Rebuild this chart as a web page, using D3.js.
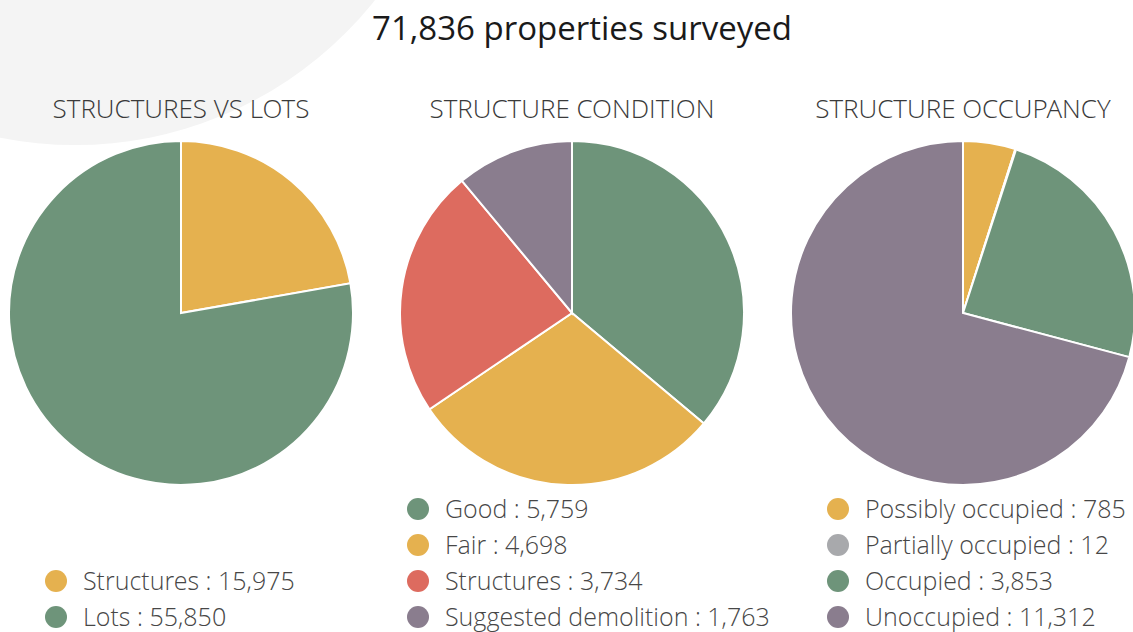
<!DOCTYPE html>
<html lang="en">
<head>
<meta charset="UTF-8">
<title>71,836 properties surveyed</title>
<style>
    body { margin: 0; background: #fff; }
    text { font-family: "Open Sans Light", "Open Sans", sans-serif; }
    .title { font-family: "Open Sans", sans-serif; font-size: 33px; fill: #1a1a1a; }
    .subtitle { font-size: 26px; font-weight: 300; fill: #3a3a3a; }
    .legend text { font-size: 25px; font-weight: 300; fill: #474747; }
    .slice { stroke: #fff; stroke-width: 2px; }
</style>
</head>
<body>
<script src="https://d3js.org/d3.v7.min.js"></script>
<script>
    const totalSurveyed = 71836;

    const lotsLabels = ["Structures", "Lots"];
    const lotsValues = [15975, 55850];
    const lotsColors = ["#e5b14f", "#6e947a"];

    const conditionLabels = ["Good", "Fair", "Structures", "Suggested demolition"];
    const conditionValues = [5759, 4698, 3734, 1763];
    const conditionColors = ["#6e947a", "#e5b14f", "#dd6b5f", "#8a7d8e"];

    const occupancyLabels = ["Possibly occupied", "Partially occupied", "Occupied", "Unoccupied"];
    const occupancyValues = [785, 12, 3853, 11312];
    const occupancyColors = ["#e5b14f", "#a8a9ac", "#6e947a", "#8a7d8e"];

    const charts = [
        {title: "STRUCTURES VS LOTS", labels: lotsLabels, values: lotsValues, colors: lotsColors, cx: 181, legendLeft: 125},
        {title: "STRUCTURE CONDITION", labels: conditionLabels, values: conditionValues, colors: conditionColors, cx: 572, legendLeft: 154},
        {title: "STRUCTURE OCCUPANCY", labels: occupancyLabels, values: occupancyValues, colors: occupancyColors, cx: 963, legendLeft: 125}
    ];

    const width = 1133, height = 632;
    const radius = 172, cy = 313;
    const fmt = d3.format(",");

    const svg = d3.select("body").append("svg")
        .attr("width", width)
        .attr("height", height);

    // pale decorative circle behind the top left
    svg.append("circle")
        .attr("cx", 75).attr("cy", -238).attr("r", 383)
        .attr("fill", "#f4f4f4");

    svg.append("text")
        .attr("class", "title")
        .attr("x", 582).attr("y", 40)
        .attr("text-anchor", "middle")
        .text(fmt(totalSurveyed) + " properties surveyed");

    const pie = d3.pie().sort(null);
    const arc = d3.arc().innerRadius(0).outerRadius(radius);

    charts.forEach(c => {
        const color = d3.scaleOrdinal().domain(c.labels).range(c.colors);

        svg.append("text")
            .attr("class", "subtitle")
            .attr("x", c.cx).attr("y", 118)
            .attr("text-anchor", "middle")
            .text(c.title);

        const g = svg.append("g")
            .attr("transform", `translate(${c.cx},${cy})`);

        g.selectAll("path")
            .data(pie(c.values))
            .join("path")
            .attr("class", "slice")
            .attr("d", arc)
            .attr("fill", (d, i) => color(c.labels[i]));

        // legend rows sit bottom aligned
        const rowH = 36;
        const lastY = 617;
        const lx = c.cx - c.legendLeft;
        const legend = svg.append("g").attr("class", "legend");
        const rows = legend.selectAll("g")
            .data(c.labels)
            .join("g")
            .attr("transform", (d, i) => `translate(${lx},${lastY - (c.labels.length - 1 - i) * rowH})`);

        rows.append("circle")
            .attr("r", 11)
            .attr("fill", d => color(d));

        rows.append("text")
            .attr("x", 27)
            .attr("dy", "0.35em")
            .text((d, i) => `${d} : ${fmt(c.values[i])}`);
    });
</script>
</body>
</html>
